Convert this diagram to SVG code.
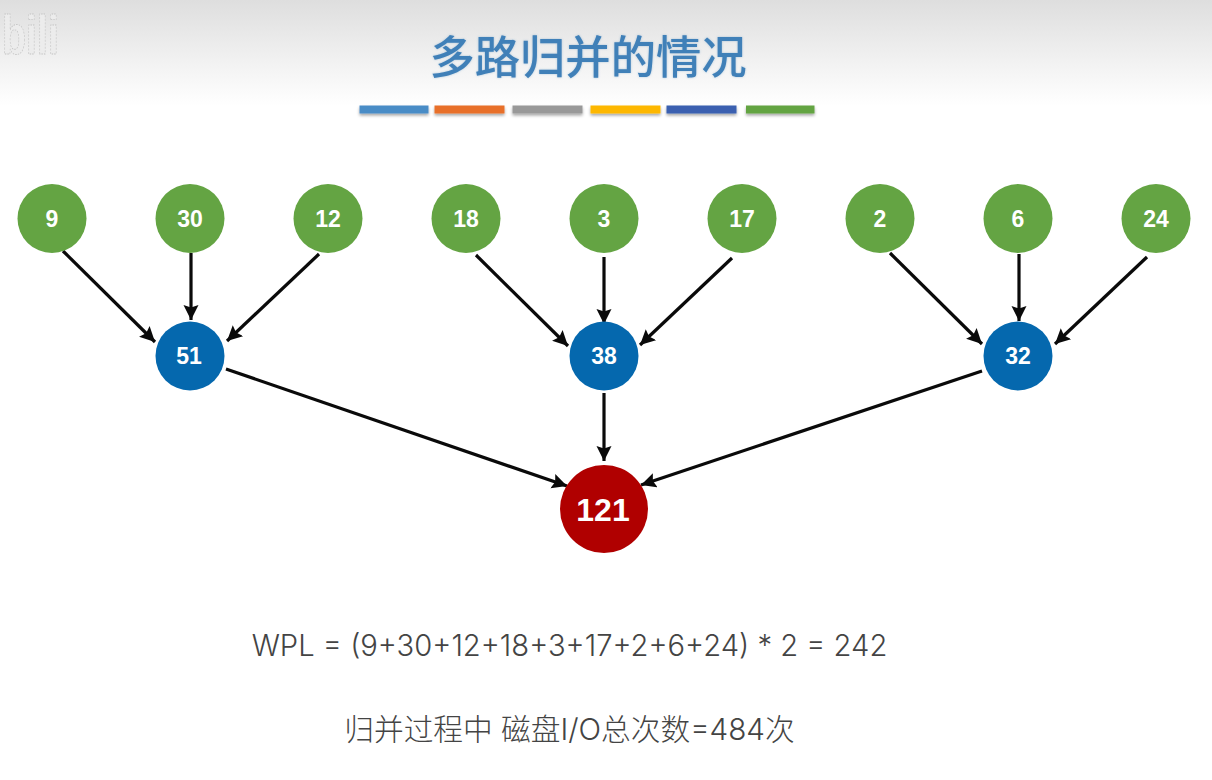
<svg xmlns="http://www.w3.org/2000/svg" width="1212" height="780" viewBox="0 0 1212 780">
  <style>
    .n { text-anchor: middle; font-family: "Liberation Sans", Arial, sans-serif; font-weight: 700; fill: #fff; font-size: 23px; }
    .leaf { fill: #64a443; }
    .mid { fill: #0568ae; }
    .root { fill: #b00000; }
    .edge { stroke: #0a0a0a; stroke-width: 3.2; fill: none; marker-end: url(#arrow); }
    .body { text-anchor: middle; fill: #444; font-family: "Inter", "Noto Sans CJK SC", sans-serif; font-weight: 300; }
    .bar { filter: url(#barShadow); }
  </style>
  <defs>
    <linearGradient id="headerFade" x1="0" y1="0" x2="0" y2="1">
      <stop offset="0" stop-color="#dedede"/>
      <stop offset="0.6" stop-color="#f2f2f2"/>
      <stop offset="1" stop-color="#ffffff"/>
    </linearGradient>
    <marker id="arrow" markerUnits="userSpaceOnUse" markerWidth="17" markerHeight="16" refX="15" refY="7.5" orient="auto">
      <path d="M0,0 L15,7.5 L0,15 L2.5,7.5 Z" fill="#0a0a0a"/>
    </marker>
    <filter id="barShadow" x="-5%" y="-50%" width="110%" height="250%">
      <feDropShadow dx="0" dy="2" stdDeviation="1.5" flood-color="#000" flood-opacity="0.35"/>
    </filter>
    <filter id="titleShadow" x="-5%" y="-20%" width="110%" height="140%">
      <feDropShadow dx="0" dy="0" stdDeviation="1.2" flood-color="#4a84b8" flood-opacity="0.4"/>
    </filter>
    <filter id="logoSoft" x="-10%" y="-10%" width="120%" height="120%">
      <feGaussianBlur stdDeviation="0.7"/>
    </filter>
  </defs>

  <rect width="1212" height="780" fill="#fff"/>
  <rect id="header" width="1212" height="106" fill="url(#headerFade)"/>

  <text id="logo" x="2" y="54" filter="url(#logoSoft)" font-family="'Liberation Sans', sans-serif" font-weight="700" font-size="56" textLength="57" lengthAdjust="spacingAndGlyphs" fill="#ececec" stroke="#c4c4c4" stroke-width="0.8" stroke-dasharray="2 1.5">bili</text>

  <text id="title" x="588" y="74" text-anchor="middle" font-family="'Noto Sans CJK SC', sans-serif" font-weight="500" font-size="45.3" fill="#4080b8" filter="url(#titleShadow)">多路归并的情况</text>

  <g id="title-bars">
    <rect class="bar" x="359.500" y="105.500" width="69" height="8" fill="#4a8cc6"/>
    <rect class="bar" x="434.500" y="105.500" width="70" height="8" fill="#e8702c"/>
    <rect class="bar" x="512.500" y="105.500" width="70" height="8" fill="#999999"/>
    <rect class="bar" x="590.500" y="105.500" width="70" height="8" fill="#fdb700"/>
    <rect class="bar" x="666.500" y="105.500" width="70" height="8" fill="#3a60b0"/>
    <rect class="bar" x="746" y="105.500" width="68.500" height="8" fill="#64a443"/>
  </g>

  <g id="connectors">
    <line class="edge" x1="63" y1="251" x2="155" y2="342"/>
    <line class="edge" x1="191" y1="253" x2="191" y2="320"/>
    <line class="edge" x1="319" y1="254" x2="227" y2="341"/>
    <line class="edge" x1="476" y1="255" x2="568" y2="346"/>
    <line class="edge" x1="604" y1="257" x2="604" y2="324"/>
    <line class="edge" x1="732" y1="258" x2="640" y2="345"/>
    <line class="edge" x1="890" y1="253" x2="982" y2="344"/>
    <line class="edge" x1="1019" y1="254" x2="1019" y2="321"/>
    <line class="edge" x1="1147" y1="257" x2="1055" y2="344"/>
    <line class="edge" x1="226" y1="369" x2="567" y2="486"/>
    <line class="edge" x1="604" y1="393" x2="604" y2="461"/>
    <line class="edge" x1="982" y1="371" x2="641" y2="485"/>
  </g>

  <g id="n9"><circle class="leaf" cx="52" cy="218.500" r="34.500"/><text class="n" x="52" y="226.500">9</text></g>
  <g id="n30"><circle class="leaf" cx="190" cy="218.500" r="34.500"/><text class="n" x="190" y="226.500">30</text></g>
  <g id="n12"><circle class="leaf" cx="328" cy="218.500" r="34.500"/><text class="n" x="328" y="226.500">12</text></g>
  <g id="n18"><circle class="leaf" cx="466" cy="218.500" r="34.500"/><text class="n" x="466" y="226.500">18</text></g>
  <g id="n3"><circle class="leaf" cx="604" cy="218.500" r="34.500"/><text class="n" x="604" y="226.500">3</text></g>
  <g id="n17"><circle class="leaf" cx="742" cy="218.500" r="34.500"/><text class="n" x="742" y="226.500">17</text></g>
  <g id="n2"><circle class="leaf" cx="880" cy="218.500" r="34.500"/><text class="n" x="880" y="226.500">2</text></g>
  <g id="n6"><circle class="leaf" cx="1018" cy="218.500" r="34.500"/><text class="n" x="1018" y="226.500">6</text></g>
  <g id="n24"><circle class="leaf" cx="1156" cy="218.500" r="34.500"/><text class="n" x="1156" y="226.500">24</text></g>

  <g id="n51"><circle class="mid" cx="190" cy="356" r="34.500"/><text class="n" x="189" y="364">51</text></g>
  <g id="n38"><circle class="mid" cx="604" cy="356" r="34.500"/><text class="n" x="604" y="364">38</text></g>
  <g id="n32"><circle class="mid" cx="1018" cy="356" r="34.500"/><text class="n" x="1018" y="364">32</text></g>

  <g id="n121"><circle class="root" cx="604" cy="509" r="44"/><text class="n" x="603" y="521" style="font-size:32px">121</text></g>

  <text id="wpl" class="body" x="569.500" y="656" style="font-size:29.2px">WPL = (9+30+12+18+3+17+2+6+24) * 2 = 242</text>
  <text id="io" class="body" x="569.500" y="740" style="font-size:29.7px">归并过程中 磁盘I/O总次数=484次</text>
</svg>
